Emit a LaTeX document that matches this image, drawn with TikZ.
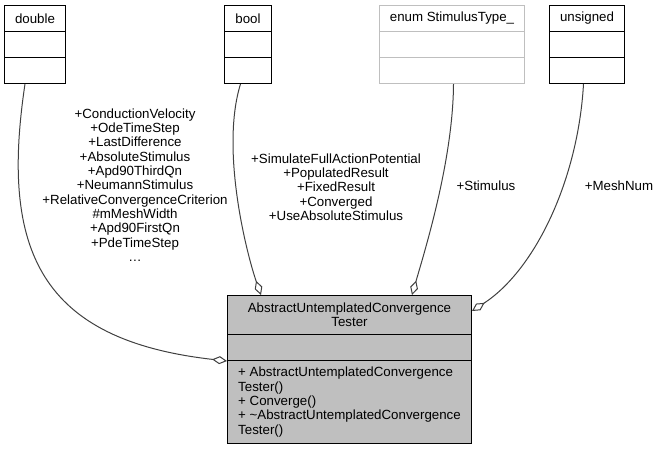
\documentclass[tikz,border=0pt]{standalone}
\usepackage{fontspec}
\setmainfont{Liberation Sans}
\usetikzlibrary{arrows.meta}
\definecolor{edgegray}{HTML}{404040}
\definecolor{boxgray}{HTML}{BFBFBF}

\begin{document}
\begin{tikzpicture}[x=1pt, y=-1pt,
  font=\fontsize{13.3}{14.3}\selectfont,
  part/.style={draw=black, line width=1pt, fill=white, minimum width=#1, minimum height=26, inner sep=0, anchor=north west},
  greypart/.style={part=#1, draw=boxgray},
  mainpart/.style={part=244, fill=boxgray},
  aggr/.style={draw=edgegray, line width=1pt, -{Diamond[open, fill=white, length=15pt, width=8pt]}},
  lbl/.style={align=center, inner sep=0}]
\useasboundingbox (0,0) rectangle (660,451);

\node (dbl) at (4, 5) [part=61] {double};
\node (dblattr) at (4, 31) [part=61] {};
\node (dblops) at (4, 57) [part=61] {};

\node (bool) at (224, 5) [part=47] {bool};
\node (boolattr) at (224, 31) [part=47] {};
\node (boolops) at (224, 57) [part=47] {};

\node (enum) at (379, 5) [greypart=145] {enum StimulusType\_};
\node (enumattr) at (379, 31) [greypart=145] {};
\node (enumops) at (379, 57) [greypart=145] {};

\node (uns) at (549, 5) [part=75] {unsigned};
\node (unsattr) at (549, 31) [part=75] {};
\node (unsops) at (549, 57) [part=75] {};

\node (mainhead) at (227, 295) [mainpart, minimum height=39, align=center] {AbstractUntemplatedConvergence\\Tester};
\node (mainattr) at (227, 334) [mainpart] {};
\node (mainops) at (227, 360) [mainpart, minimum height=83, align=left] {+ AbstractUntemplatedConvergence\\Tester()\\+ Converge()\\+ \textasciitilde AbstractUntemplatedConvergence\\Tester()};

\draw[aggr] ([xshift=-10pt]dblops.south) .. controls (0,250) and (40,340) .. (mainattr.south west);
\draw[aggr] ([xshift=-7.5pt]boolops.south) .. controls (220,150) and (247,255) .. ([xshift=34pt]mainhead.north west);
\draw[aggr] ([xshift=1.5pt]enumops.south) .. controls (453,160) and (425,250) .. ([xshift=185pt]mainhead.north west);
\draw[aggr] ([xshift=-3.5pt]unsops.south) .. controls (578,180) and (535,270) .. ([yshift=-16pt]mainhead.north east);

\node (dbllbl) at (135, 185) [lbl] {+ConductionVelocity\\+OdeTimeStep\\+LastDifference\\+AbsoluteStimulus\\+Apd90ThirdQn\\+NeumannStimulus\\+RelativeConvergenceCriterion\\\#mMeshWidth\\+Apd90FirstQn\\+PdeTimeStep\\\dots};
\node (boollbl) at (336, 187) [lbl] {+SimulateFullActionPotential\\+PopulatedResult\\+FixedResult\\+Converged\\+UseAbsoluteStimulus};
\node (enumlbl) at (486, 186) [lbl] {+Stimulus};
\node (unslbl) at (619, 186) [lbl] {+MeshNum};
\end{tikzpicture}
\end{document}
